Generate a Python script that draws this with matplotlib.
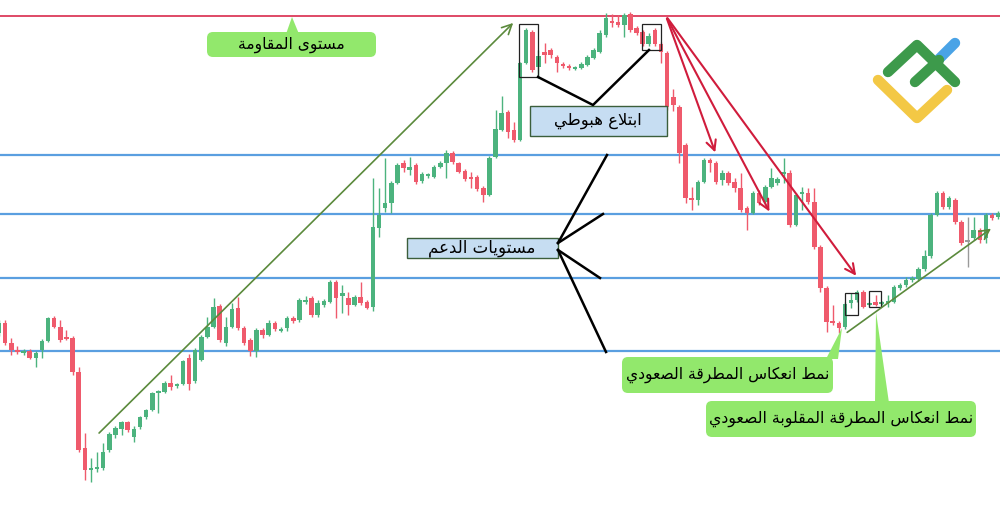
import numpy as np
import matplotlib
matplotlib.use('Agg')
import matplotlib.pyplot as plt
from matplotlib.patches import FancyBboxPatch, Rectangle, Polygon

# Candles (price units, one per bar, left to right)
opens = [
    176, 186, 166, 159, 156, 158, 151, 159, 168, 191,
    182, 172, 171, 137, 61, 39, 40, 41, 59, 74,
    80, 87, 72, 82, 92, 99, 116, 117, 126, 123,
    125, 151, 128, 149, 172, 182, 203, 166, 182, 201,
    181, 169, 158, 179, 174, 186, 178, 181, 191, 189,
    207, 211, 194, 204, 207, 227, 213, 211, 204, 212,
    207, 202, 281, 301, 306, 326, 346, 339, 344, 328,
    333, 332, 342, 346, 356, 346, 338, 332, 332, 321,
    314, 352, 379, 397, 379, 369, 446, 477, 442, 457,
    459, 452, 445, 443, 440, 441, 444, 451, 457, 474,
    487, 487, 484, 495, 481, 477, 465, 479, 465, 456,
    412, 402, 364, 311, 309, 327, 349, 346, 329, 336,
    327, 321, 301, 296, 316, 307, 322, 326, 335, 336,
    284, 315, 316, 307, 262, 221, 188, 186, 182, 206,
    209, 217, 204, 207, 205, 206, 207, 221, 224, 229,
    230, 240, 253, 294, 316, 302, 309, 287, 267, 271,
    279, 271, 294, 292]
closes = [
    186, 166, 159, 157, 158, 151, 156, 168, 191, 182,
    169, 170, 137, 59, 39, 41, 42, 57, 75, 81,
    87, 79, 80, 92, 99, 116, 118, 126, 122, 125,
    148, 125, 159, 172, 182, 202, 169, 182, 200, 181,
    166, 158, 179, 174, 186, 180, 180, 191, 188, 209,
    209, 194, 206, 208, 227, 211, 216, 204, 212, 206,
    201, 282, 294, 306, 326, 344, 341, 342, 327, 335,
    334, 342, 346, 356, 347, 337, 330, 330, 320, 314,
    351, 380, 396, 377, 369, 446, 479, 439, 453, 454,
    454, 446, 443, 441, 441, 445, 452, 459, 476, 491,
    486, 484, 494, 479, 476, 465, 473, 465, 457, 402,
    404, 356, 311, 309, 327, 349, 346, 327, 336, 326,
    321, 299, 296, 316, 306, 322, 331, 330, 337, 284,
    314, 316, 307, 262, 221, 187, 186, 181, 205, 209,
    217, 202, 205, 204, 206, 208, 222, 224, 229, 231,
    240, 253, 294, 316, 302, 311, 287, 266, 267, 279,
    269, 294, 291, 296]
highs = [
    189, 189, 171, 163, 160, 160, 158, 170, 192, 193,
    189, 179, 173, 142, 76, 51, 57, 66, 77, 83,
    88, 88, 83, 93, 100, 117, 119, 128, 134, 126,
    149, 155, 161, 174, 192, 211, 205, 192, 206, 212,
    183, 171, 181, 181, 189, 188, 182, 193, 193, 211,
    213, 213, 209, 210, 229, 229, 224, 217, 214, 227,
    209, 331, 321, 351, 328, 346, 349, 352, 346, 337,
    336, 344, 348, 359, 358, 347, 340, 337, 334, 323,
    353, 399, 413, 399, 387, 447, 481, 479, 459, 466,
    461, 454, 447, 445, 443, 447, 454, 461, 479, 496,
    495, 494, 496, 497, 483, 479, 476, 481, 467, 458,
    420, 404, 366, 322, 329, 351, 351, 348, 339, 338,
    331, 336, 303, 318, 319, 324, 341, 332, 351, 339,
    316, 322, 321, 321, 264, 223, 204, 188, 207, 216,
    219, 219, 207, 214, 208, 214, 224, 226, 232, 233,
    242, 259, 296, 318, 318, 313, 311, 289, 292, 292,
    281, 296, 296, 298]
lows = [
    173, 164, 154, 155, 154, 150, 142, 151, 167, 181,
    167, 169, 134, 57, 29, 27, 37, 39, 57, 71,
    74, 77, 67, 80, 90, 98, 96, 116, 119, 121,
    124, 119, 126, 148, 171, 181, 167, 163, 181, 179,
    164, 153, 152, 171, 173, 178, 177, 178, 186, 187,
    205, 192, 192, 202, 206, 191, 196, 194, 203, 204,
    200, 198, 272, 297, 296, 325, 337, 334, 325, 326,
    331, 331, 341, 331, 345, 336, 328, 321, 318, 307,
    313, 351, 378, 371, 367, 368, 445, 437, 431, 446,
    451, 437, 441, 439, 439, 440, 443, 450, 456, 472,
    482, 482, 472, 477, 474, 463, 463, 463, 446, 399,
    398, 346, 306, 299, 304, 326, 337, 325, 324, 324,
    317, 297, 279, 295, 304, 306, 321, 324, 326, 282,
    283, 299, 305, 260, 217, 177, 184, 176, 180, 201,
    207, 201, 203, 203, 204, 202, 206, 219, 222, 227,
    228, 238, 251, 293, 300, 300, 285, 264, 242, 269,
    266, 266, 289, 290]

resistance = 493
supports = [354, 295, 231, 158]

# pattern boxes: (first bar, last bar, low price, high price)
engulf_boxes = [(84.8, 87.9, 432, 485), (104.9, 108.0, 459, 485)]
hammer_boxes = [(138.0, 140.1, 194, 216), (141.9, 143.9, 202, 218)]

# trend arrows (bar, price) -> (bar, price)
up_arrows = [((16.0, 74), (84.2, 488)), ((138.0, 175), (162.2, 282))]
down_start = (108.8, 493)
down_targets = [(117.0, 354), (125.9, 295), (140.1, 231)]

lbl_resist = 'مستوى المقاومة'
lbl_engulf = 'ابتلاع هبوطي'
lbl_support = 'مستويات الدعم'
lbl_hammer = 'نمط انعكاس المطرقة الصعودي'
lbl_inv_hammer = 'نمط انعكاس المطرقة المقلوبة الصعودي'

GREEN = '#4cb37e'
RED = '#ef5a6c'
GRAY = '#9a9a9a'
BLUE = '#5a9fe0'
LBL_GREEN = '#92e86c'
LBL_BLUE = '#c6ddf2'

# matplotlib has no Arabic shaping, so map letters to presentation forms
FORMS = {
    'ا': ('\uFE8D', '\uFE8E', None, None),
    'ب': ('\uFE8F', '\uFE90', '\uFE91', '\uFE92'),
    'ة': ('\uFE93', '\uFE94', None, None),
    'ت': ('\uFE95', '\uFE96', '\uFE97', '\uFE98'),
    'د': ('\uFEA9', '\uFEAA', None, None),
    'ر': ('\uFEAD', '\uFEAE', None, None),
    'س': ('\uFEB1', '\uFEB2', '\uFEB3', '\uFEB4'),
    'ص': ('\uFEB9', '\uFEBA', '\uFEBB', '\uFEBC'),
    'ط': ('\uFEC1', '\uFEC2', '\uFEC3', '\uFEC4'),
    'ع': ('\uFEC9', '\uFECA', '\uFECB', '\uFECC'),
    'ق': ('\uFED5', '\uFED6', '\uFED7', '\uFED8'),
    'ك': ('\uFED9', '\uFEDA', '\uFEDB', '\uFEDC'),
    'ل': ('\uFEDD', '\uFEDE', '\uFEDF', '\uFEE0'),
    'م': ('\uFEE1', '\uFEE2', '\uFEE3', '\uFEE4'),
    'ن': ('\uFEE5', '\uFEE6', '\uFEE7', '\uFEE8'),
    'ه': ('\uFEE9', '\uFEEA', '\uFEEB', '\uFEEC'),
    'و': ('\uFEED', '\uFEEE', None, None),
    'ى': ('\uFEEF', '\uFEF0', None, None),
    'ي': ('\uFEF1', '\uFEF2', '\uFEF3', '\uFEF4'),
}
LAM_ALEF = ('\uFEFB', '\uFEFC')


def shape(text):
    chars = list(text)
    out = []
    i = 0
    while i < len(chars):
        ch = chars[i]
        if ch not in FORMS:
            out.append(ch)
            i += 1
            continue
        prev = chars[i - 1] if i > 0 else None
        joins_prev = prev in FORMS and FORMS[prev][2] is not None
        if ch == 'ل' and i + 1 < len(chars) and chars[i + 1] == 'ا':
            out.append(LAM_ALEF[1] if joins_prev else LAM_ALEF[0])
            i += 2
            continue
        nxt = chars[i + 1] if i + 1 < len(chars) else None
        joins_next = FORMS[ch][2] is not None and nxt in FORMS
        iso, fin, ini, med = FORMS[ch]
        if joins_prev and joins_next:
            out.append(med)
        elif joins_prev:
            out.append(fin)
        elif joins_next:
            out.append(ini)
        else:
            out.append(iso)
        i += 1
    return ''.join(reversed(out))


plt.rcParams['font.family'] = ['DejaVu Sans']

fig = plt.figure(figsize=(10, 5.09), dpi=100)
ax = fig.add_axes([0, 0, 1, 1])
ax.set_xlim(0.16, 163.3)
ax.set_ylim(0, 509)
ax.axis('off')

o = np.array(opens)
c = np.array(closes)
idx = np.arange(len(o))
cols = np.where(c > o, GREEN, np.where(c < o, RED, GRAY))

# levels
ax.axhline(resistance, color='#dc3a5a', lw=1.3, zorder=2)
for s in supports:
    ax.axhline(s, color=BLUE, lw=1.6, zorder=2)

# candles
ax.vlines(idx, lows, highs, colors=cols, lw=1.0, zorder=3)
ax.bar(idx, np.maximum(np.abs(c - o), 1.8), bottom=np.minimum(o, c),
       width=0.74, color=cols, linewidth=0, zorder=4)

for x0, x1, y0, y1 in engulf_boxes + hammer_boxes:
    ax.add_patch(Rectangle((x0, y0), x1 - x0, y1 - y0, fill=False,
                           ec='#222222', lw=0.9, zorder=5))

for start, end in up_arrows:
    ax.annotate('', xy=end, xytext=start,
                arrowprops=dict(arrowstyle='->,head_length=0.7,head_width=0.35',
                                color='#5b8a3c', lw=1.2), zorder=5)
for tgt in down_targets:
    ax.annotate('', xy=tgt, xytext=down_start,
                arrowprops=dict(arrowstyle='->,head_length=0.7,head_width=0.35',
                                color='#d01c3c', lw=1.5), zorder=5)

# overlay in pixel units for labels and logo
ov = fig.add_axes([0, 0, 1, 1], facecolor='none')
ov.set_xlim(0, 1000)
ov.set_ylim(509, 0)
ov.axis('off')

# bearish engulfing label
ov.plot([538, 593, 649], [77, 105, 50], color='black', lw=1.8)
ov.add_patch(Rectangle((530, 106), 137, 30, fc=LBL_BLUE, ec='#3b5e3b', lw=1))
ov.text(598, 121, shape(lbl_engulf), ha='center', va='center', fontsize=11.8)

# support levels label
for px, py, sy in [(607, 155, 243), (603, 214, 243), (600, 278, 250), (606, 352, 250)]:
    ov.plot([558, px], [sy, py], color='black', lw=1.8)
ov.add_patch(Rectangle((407, 238), 151, 20, fc=LBL_BLUE, ec='#3b5e3b', lw=1))
ov.text(482, 248, shape(lbl_support), ha='center', va='center', fontsize=12)

# green callouts
def callout(x, y, w, h, tri, text, size):
    ov.add_patch(Polygon(tri, closed=True, fc=LBL_GREEN, ec='none'))
    ov.add_patch(FancyBboxPatch((x, y), w, h, boxstyle='round,pad=0,rounding_size=6',
                                fc=LBL_GREEN, ec='none'))
    ov.text(x + w / 2, y + h / 2, shape(text), ha='center', va='center', fontsize=size)

callout(207, 32, 169, 25, [(286, 34), (299, 34), (292, 17)], lbl_resist, 11.2)
callout(622, 357, 211, 36, [(826, 359), (838, 359), (842, 328)], lbl_hammer, 11.2)
callout(706, 401, 270, 36, [(875, 403), (889, 403), (876, 312)], lbl_inv_hammer, 11.3)

# logo
ov.plot([878, 917, 947], [80, 118, 90], color='#f3c845', lw=7.5,
        solid_capstyle='round', solid_joinstyle='round')
ov.plot([939, 955], [59, 43], color='#4aa3e6', lw=7.5, solid_capstyle='round')
ov.plot([888, 917, 955], [72, 45, 82], color='#3d9a4b', lw=7.5,
        solid_capstyle='round', solid_joinstyle='round')
ov.plot([915, 939], [82, 60], color='#3d9a4b', lw=7.5, solid_capstyle='round')

fig.savefig('out.png', dpi=100, facecolor='white')
